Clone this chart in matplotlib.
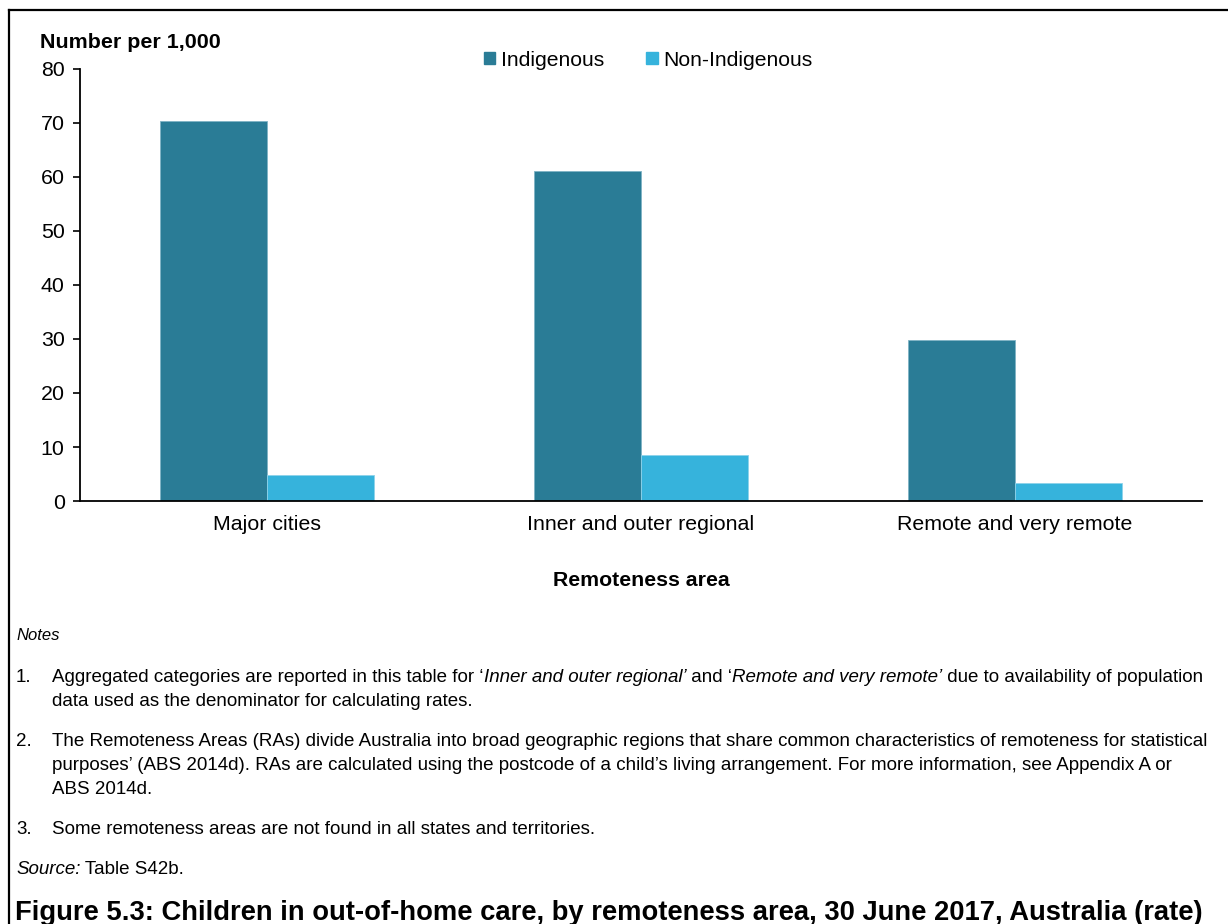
import numpy as np
import matplotlib
matplotlib.use('Agg')
import matplotlib.pyplot as plt
from matplotlib.patches import Patch
from matplotlib.lines import Line2D

plt.rcParams['font.family'] = ['Liberation Sans', 'DejaVu Sans']

# data
categories = ['Major cities', 'Inner and outer regional', 'Remote and very remote']
indigenous = [70.4, 61.1, 29.8]
non_indigenous = [4.8, 8.5, 3.3]
series_names = ['Indigenous', 'Non-Indigenous']
y_ticks = [0, 10, 20, 30, 40, 50, 60, 70, 80]

c_ind = '#2A7C96'
c_non = '#36B3DC'

W, H = 1228, 924
fig = plt.figure(figsize=(W / 100, H / 100), dpi=100)


def fx(px):
    return px / W


def fy(py):
    return 1 - py / H


ax = fig.add_axes([fx(80), fy(501), fx(1202) - fx(80), fy(69) - fy(501)])

x = np.arange(len(categories))
bw = 0.285
ax.bar(x - bw / 2, indigenous, bw, color=c_ind, edgecolor='#7FB3C5', linewidth=0.6)
ax.bar(x + bw / 2, non_indigenous, bw, color=c_non, edgecolor='#8ED3EA', linewidth=0.6)

ax.set_xlim(-0.5, len(categories) - 0.5)
ax.set_ylim(0, 80)
ax.set_yticks(y_ticks)
ax.set_xticks(x)
ax.set_xticklabels(categories, fontsize=15.4)
ax.tick_params(axis='y', labelsize=15.4, length=5, width=1.2, pad=6)
ax.tick_params(axis='x', length=0, pad=10)
for s in ['top', 'right']:
    ax.spines[s].set_visible(False)
for s in ['left', 'bottom']:
    ax.spines[s].set_linewidth(1.3)

handles = [Patch(color=c_ind), Patch(color=c_non)]
fig.legend(handles, series_names, loc='center', bbox_to_anchor=(fx(648), fy(60)),
           ncol=2, frameon=False, fontsize=15.2, handlelength=0.55, handleheight=0.55,
           handletextpad=0.25, columnspacing=2.0)

fig.text(fx(40), fy(42), 'Number per 1,000', fontsize=15.4, fontweight='bold', va='center')
fig.text(fx(641), fy(581), 'Remoteness area', fontsize=15.3, fontweight='bold',
         va='center', ha='center')

renderer = fig.canvas.get_renderer()
fs = 13.5


def line_parts(px, py, parts, size=fs):
    # draw a line made of (text, style) pieces one after another
    xpos = fx(px)
    for txt, style in parts:
        t = fig.text(xpos, fy(py), txt, fontsize=size, style=style, va='center')
        bb = t.get_window_extent(renderer)
        xpos = bb.x1 / W


fig.text(fx(16), fy(636), 'Notes', fontsize=12, style='italic', va='center')

fig.text(fx(16), fy(678), '1.', fontsize=fs, va='center')
line_parts(52, 678, [('Aggregated categories are reported in this table for \u2018', 'normal'),
                     ('Inner and outer regional\u2019', 'italic'),
                     (' and \u2018', 'normal'),
                     ('Remote and very remote\u2019', 'italic'),
                     (' due to availability of population', 'normal')])
fig.text(fx(52), fy(702), 'data used as the denominator for calculating rates.', fontsize=fs, va='center')

fig.text(fx(16), fy(742), '2.', fontsize=fs, va='center')
fig.text(fx(52), fy(742), 'The Remoteness Areas (RAs) divide Australia into broad geographic regions '
         'that share common characteristics of remoteness for statistical', fontsize=fs, va='center')
fig.text(fx(52), fy(766), 'purposes\u2019 (ABS 2014d). RAs are calculated using the postcode of a '
         'child\u2019s living arrangement. For more information, see Appendix A or', fontsize=fs, va='center')
fig.text(fx(52), fy(789), 'ABS 2014d.', fontsize=fs, va='center')

fig.text(fx(16), fy(830), '3.', fontsize=fs, va='center')
fig.text(fx(52), fy(830), 'Some remoteness areas are not found in all states and territories.',
         fontsize=fs, va='center')

line_parts(16, 870, [('Source:', 'italic'), (' Table S42b.', 'normal')])

fig.text(fx(15), fy(913), 'Figure 5.3: Children in out-of-home care, by remoteness area, '
         '30 June 2017, Australia (rate)', fontsize=19.7, fontweight='bold', va='center')

# frame lines (top and left)
fig.add_artist(Line2D([fx(9), 1], [fy(10), fy(10)], color='black', linewidth=1.6))
fig.add_artist(Line2D([fx(9), fx(9)], [fy(10), 0], color='black', linewidth=1.6))

fig.savefig('out.png', dpi=100)
